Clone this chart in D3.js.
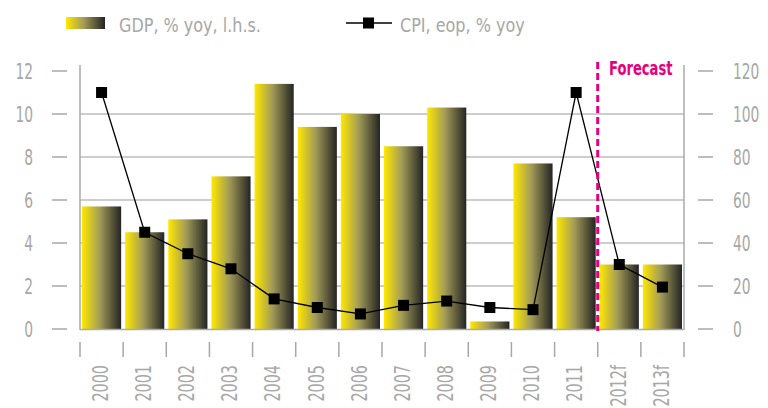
<!DOCTYPE html>
<html>
<head>
<meta charset="utf-8">
<script src="https://cdn.jsdelivr.net/npm/d3@7"></script>
<style>
  body { margin: 0; background: #fff; }
  text { font-family: "Liberation Sans Narrow", "DejaVu Sans Condensed", "DejaVu Sans", sans-serif; font-stretch: condensed; }
</style>
</head>
<body>
<div id="chart"></div>
<script>
  // Chart data
  var years = ['2000','2001','2002','2003','2004','2005','2006','2007','2008','2009','2010','2011','2012f','2013f'];
  var gdp = [5.7, 4.5, 5.1, 7.1, 11.4, 9.4, 10.0, 8.5, 10.3, 0.35, 7.7, 5.2, 3.0, 3.0];
  var cpi = [110, 45, 35, 28, 14, 10, 7, 11, 13, 10, 9, 110, 30, 19.5];
  var leftTicks = [0, 2, 4, 6, 8, 10, 12];
  var rightTicks = [0, 20, 40, 60, 80, 100, 120];

  var width = 768, height = 408;
  var plotLeft = 80, plotRight = 684, plotTop = 71, plotBottom = 329;
  var grey = '#a7a7a7';
  var pink = '#e5007d';

  var svg = d3.select('#chart').append('svg')
      .attr('width', width)
      .attr('height', height);

  // no condensed font available, so squeeze text horizontally
  function addText(parent, x, y, str, size, sx, anchor, rotate) {
      var t = 'translate(' + x + ',' + y + ')' + (rotate ? ' rotate(' + rotate + ')' : '') + ' scale(' + sx + ',1)';
      return parent.append('text')
          .attr('transform', t)
          .attr('dy', '0.35em')
          .attr('text-anchor', anchor || 'start')
          .attr('font-size', size)
          .attr('fill', grey)
          .text(str);
  }

  // gradient for the bars
  var grad = svg.append('defs').append('linearGradient')
      .attr('id', 'barGrad')
      .attr('x1', '0%').attr('x2', '100%').attr('y1', '0%').attr('y2', '0%');
  grad.append('stop').attr('offset', '0%').attr('stop-color', '#ffe800');
  grad.append('stop').attr('offset', '45%').attr('stop-color', '#a39c58');
  grad.append('stop').attr('offset', '100%').attr('stop-color', '#242424');

  // scales
  var x = d3.scaleBand().domain(years).range([plotLeft, plotRight]);
  var yL = d3.scaleLinear().domain([0, 12]).range([plotBottom, plotTop]);
  var yR = d3.scaleLinear().domain([0, 120]).range([plotBottom, plotTop]);

  // grid lines
  svg.selectAll('.grid')
      .data(leftTicks.filter(function(d) { return d > 0 && d < 12; }))
      .enter().append('line')
      .attr('x1', plotLeft).attr('x2', plotRight)
      .attr('y1', function(d) { return yL(d); })
      .attr('y2', function(d) { return yL(d); })
      .attr('stroke', '#bdbdbd')
      .attr('stroke-width', 1.5);

  // bars
  svg.selectAll('.bar')
      .data(gdp)
      .enter().append('rect')
      .attr('x', function(d, i) { return x(years[i]) + 2; })
      .attr('y', function(d) { return yL(d); })
      .attr('width', x.bandwidth() - 4)
      .attr('height', function(d) { return yL(0) - yL(d); })
      .attr('fill', 'url(#barGrad)');

  // frame lines
  svg.append('line').attr('x1', plotLeft).attr('x2', plotLeft).attr('y1', 65).attr('y2', plotBottom + 1)
      .attr('stroke', '#aaa').attr('stroke-width', 1.5);
  svg.append('line').attr('x1', plotRight).attr('x2', plotRight).attr('y1', 65).attr('y2', plotBottom + 1)
      .attr('stroke', '#aaa').attr('stroke-width', 1.5);
  svg.append('line').attr('x1', plotLeft).attr('x2', plotRight).attr('y1', plotBottom + 0.5).attr('y2', plotBottom + 0.5)
      .attr('stroke', '#aaa').attr('stroke-width', 1.5);

  // left axis
  var gL = svg.append('g');
  gL.selectAll('line').data(leftTicks).enter().append('line')
      .attr('x1', 52).attr('x2', 67)
      .attr('y1', function(d) { return yL(d); })
      .attr('y2', function(d) { return yL(d); })
      .attr('stroke', grey).attr('stroke-width', 1.5);
  leftTicks.forEach(function(d) {
      addText(gL, 33, yL(d), d, 22, 0.7, 'end');
  });

  // right axis
  var gR = svg.append('g');
  gR.selectAll('line').data(rightTicks).enter().append('line')
      .attr('x1', 698).attr('x2', 713)
      .attr('y1', function(d) { return yR(d); })
      .attr('y2', function(d) { return yR(d); })
      .attr('stroke', grey).attr('stroke-width', 1.5);
  rightTicks.forEach(function(d) {
      addText(gR, 733, yR(d), d, 22, 0.7, 'start');
  });

  // bottom ticks at band boundaries
  var bounds = years.map(function(d) { return x(d); }).concat([plotRight]);
  svg.selectAll('.xtick').data(bounds).enter().append('line')
      .attr('x1', function(d) { return d; })
      .attr('x2', function(d) { return d; })
      .attr('y1', 342).attr('y2', 357)
      .attr('stroke', grey).attr('stroke-width', 1.5);

  // year labels
  var gX = svg.append('g');
  years.forEach(function(d) {
      addText(gX, x(d) + x.bandwidth() / 2 - 1, 365, d, 21, 0.76, 'end', -90);
  });

  // CPI line
  var line = d3.line()
      .x(function(d, i) { return x(years[i]) + x.bandwidth() / 2; })
      .y(function(d) { return yR(d); });
  svg.append('path')
      .datum(cpi)
      .attr('d', line)
      .attr('fill', 'none')
      .attr('stroke', '#000')
      .attr('stroke-width', 1.3);
  svg.selectAll('.mark').data(cpi).enter().append('rect')
      .attr('x', function(d, i) { return x(years[i]) + x.bandwidth() / 2 - 5.5; })
      .attr('y', function(d) { return yR(d) - 5.5; })
      .attr('width', 11).attr('height', 11)
      .attr('fill', '#000');

  // forecast divider
  var fx = x('2012f');
  svg.append('line')
      .attr('x1', fx).attr('x2', fx)
      .attr('y1', 62).attr('y2', plotBottom + 2)
      .attr('stroke', pink)
      .attr('stroke-width', 3)
      .attr('stroke-dasharray', '7,4');
  addText(svg, 609, 68, 'Forecast', 20, 0.73, 'start')
      .attr('font-weight', 'bold')
      .attr('fill', pink);

  // legend
  svg.append('rect')
      .attr('x', 66).attr('y', 17).attr('width', 39).attr('height', 12)
      .attr('fill', 'url(#barGrad)');
  addText(svg, 119, 24.5, 'GDP, % yoy, l.h.s.', 20, 0.89, 'start');
  svg.append('line')
      .attr('x1', 346).attr('x2', 392).attr('y1', 23).attr('y2', 23)
      .attr('stroke', '#000').attr('stroke-width', 1.5);
  svg.append('rect')
      .attr('x', 363).attr('y', 17.5).attr('width', 11).attr('height', 11)
      .attr('fill', '#000');
  addText(svg, 400, 24.5, 'CPI, eop, % yoy', 20, 0.89, 'start');
</script>
</body>
</html>
